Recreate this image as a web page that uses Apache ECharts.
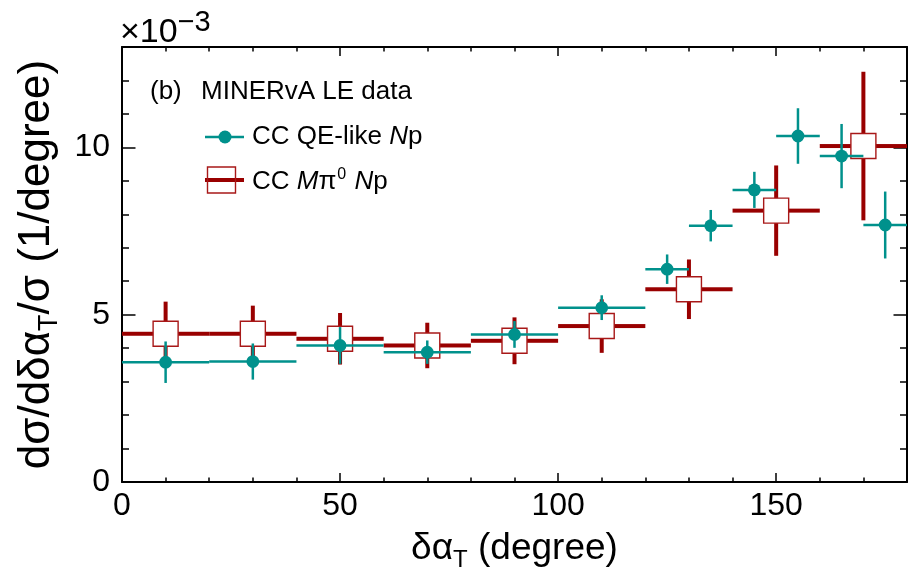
<!DOCTYPE html>
<html><head><meta charset="utf-8">
<script src="https://cdn.jsdelivr.net/npm/echarts@6/dist/echarts.min.js"></script>
<style>html,body{margin:0;padding:0;background:#fff}#c{width:913px;height:576px}</style>
</head><body><div id="c"></div>
<script>
// ---- data (values in units of 1e-3 / degree) ----
const cyanX   = [10, 30, 50, 70, 90, 110, 125, 135, 145, 155, 165, 175];
const cyanLo  = [0, 20, 40, 60, 80, 100, 120, 130, 140, 150, 160, 170];
const cyanHi  = [20, 40, 60, 80, 100, 120, 130, 140, 150, 160, 170, 180];
const cyanY   = [3.58, 3.60, 4.08, 3.88, 4.41, 5.21, 6.36, 7.66, 8.73, 10.34, 9.74, 7.68];
const cyanErr = [0.62, 0.54, 0.55, 0.35, 0.40, 0.37, 0.44, 0.47, 0.54, 0.83, 0.96, 1.00];

const redX   = [10, 30, 50, 70, 90, 110, 130, 150, 170];
const redLo  = [0, 20, 40, 60, 80, 100, 120, 140, 160];
const redHi  = [20, 40, 60, 80, 100, 120, 140, 160, 180];
const redY   = [4.43, 4.43, 4.28, 4.08, 4.22, 4.66, 5.76, 8.11, 10.04];
const redErr = [0.96, 0.84, 0.77, 0.68, 0.70, 0.80, 0.89, 1.35, 2.22];

const xTicks = [0, 50, 100, 150];
const yTicks = [0, 5, 10];

const CYAN = '#00918c';
const RED = '#990000';
const RED2 = '#a81818';
const FONT = 'Liberation Sans, Arial, Helvetica, sans-serif';

const cyanData = cyanX.map((x, i) => [x, cyanY[i], cyanErr[i], cyanLo[i], cyanHi[i]]);
const redData = redX.map((x, i) => [x, redY[i], redErr[i], redLo[i], redHi[i]]);

function pts(api) {
  const x = api.value(0), y = api.value(1), e = api.value(2), lo = api.value(3), hi = api.value(4);
  return {
    c: api.coord([x, y]), l: api.coord([lo, y]), r: api.coord([hi, y]),
    t: api.coord([x, y + e]), b: api.coord([x, y - e])
  };
}
function renderRed(params, api) {
  const p = pts(api), h = 12.5, ch = [];
  const st = { stroke: RED, lineWidth: 4, lineCap: 'butt' };
  if (p.c[0] - h > p.l[0]) ch.push({ type: 'line', shape: { x1: p.l[0], y1: p.c[1], x2: p.c[0] - h, y2: p.c[1] }, style: st });
  if (p.r[0] > p.c[0] + h) ch.push({ type: 'line', shape: { x1: p.c[0] + h, y1: p.c[1], x2: p.r[0], y2: p.c[1] }, style: st });
  if (p.t[1] < p.c[1] - h) ch.push({ type: 'line', shape: { x1: p.c[0], y1: p.t[1], x2: p.c[0], y2: p.c[1] - h }, style: st });
  if (p.b[1] > p.c[1] + h) ch.push({ type: 'line', shape: { x1: p.c[0], y1: p.c[1] + h, x2: p.c[0], y2: p.b[1] }, style: st });
  ch.push({ type: 'rect', shape: { x: p.c[0] - h, y: p.c[1] - h, width: 2 * h, height: 2 * h }, style: { fill: 'none', stroke: RED2, lineWidth: 1.4 } });
  return { type: 'group', children: ch };
}
function renderCyan(params, api) {
  const p = pts(api), ch = [];
  const st = { stroke: CYAN, lineWidth: 2.5, lineCap: 'butt' };
  ch.push({ type: 'line', shape: { x1: p.l[0], y1: p.c[1], x2: p.r[0], y2: p.c[1] }, style: st });
  ch.push({ type: 'line', shape: { x1: p.c[0], y1: p.t[1], x2: p.c[0], y2: p.b[1] }, style: st });
  ch.push({ type: 'circle', shape: { cx: p.c[0], cy: p.c[1], r: 6.4 }, style: { fill: CYAN } });
  return { type: 'group', children: ch };
}

function baseX(pos, interval, len, major) {
  return {
    type: 'value', position: pos, min: 0, max: 180, interval: interval,
    axisLine: { show: major, onZero: false, lineStyle: { color: '#000', width: 2 } },
    axisTick: { show: true, inside: true, length: len, lineStyle: { color: '#000', width: 1.5 } },
    axisLabel: { show: false }, splitLine: { show: false }
  };
}
function baseY(pos, interval, len, major) {
  return {
    type: 'value', position: pos, min: 0, max: 13, interval: interval,
    axisLine: { show: major, onZero: false, lineStyle: { color: '#000', width: 2 } },
    axisTick: { show: true, inside: true, length: len, lineStyle: { color: '#000', width: 1.5 } },
    axisLabel: { show: false }, splitLine: { show: false }
  };
}

const xMain = baseX('bottom', 50, 9, true);
xMain.axisLabel = {
  show: true, fontSize: 32, color: '#000', fontFamily: FONT, margin: 8,
  formatter: v => (xTicks.indexOf(v) >= 0 ? String(v) : '')
};
xMain.name = '{a|δα}{s|T}{a| (degree)}';
xMain.nameLocation = 'middle';
xMain.nameGap = 44;
xMain.nameTextStyle = {
  color: '#000', fontFamily: FONT, fontSize: 37,
  rich: { a: { fontSize: 37, fontFamily: FONT, color: '#000' },
          s: { fontSize: 24, fontFamily: FONT, color: '#000', padding: [22, 0, 0, 0] } }
};

const yMain = baseY('left', 5, 13.5, true);
yMain.axisLabel = {
  show: true, fontSize: 32, color: '#000', fontFamily: FONT, margin: 12,
  formatter: v => (yTicks.indexOf(v) >= 0 ? String(v) : '')
};
yMain.name = '{a|dσ/dδα}{s|T}{a|/σ (1/degree)}';
yMain.nameLocation = 'middle';
yMain.nameRotate = 90;
yMain.nameGap = 57;
yMain.nameTextStyle = {
  color: '#000', fontFamily: FONT, fontSize: 44,
  rich: { a: { fontSize: 44, fontFamily: FONT, color: '#000' },
          s: { fontSize: 27, fontFamily: FONT, color: '#000', padding: [26, 0, 0, 0] } }
};

const option = {
  animation: false,
  backgroundColor: '#fff',
  grid: { left: 122, right: 6, top: 47, bottom: 94, containLabel: false, outerBoundsMode: 'none' },
  xAxis: [xMain, baseX('bottom', 10, 4.5, false), baseX('top', 50, 9, true), baseX('top', 10, 4.5, false)],
  yAxis: [yMain, baseY('left', 1, 7, false), baseY('right', 5, 13.5, true), baseY('right', 1, 7, false)],
  series: [
    { type: 'custom', name: 'CC Mπ0 Np', xAxisIndex: 0, yAxisIndex: 0, renderItem: renderRed, data: redData, encode: { x: 0, y: 1 }, clip: true, z: 2 },
    { type: 'custom', name: 'CC QE-like Np', xAxisIndex: 0, yAxisIndex: 0, renderItem: renderCyan, data: cyanData, encode: { x: 0, y: 1 }, clip: true, z: 3 }
  ],
  graphic: [
    { type: 'text', x: 120, y: 6, z: 10, style: { text: '{a|×10}{b|−3}', fill: '#000',
      rich: { a: { fontSize: 34, fontFamily: FONT, fill: '#000', padding: [10, 0, 0, 0] },
              b: { fontSize: 29, fontFamily: FONT, fill: '#000', padding: [0, 0, 10, 0] } } } },
    { type: 'text', x: 150, y: 92, z: 10, style: { text: '(b)', fontSize: 26, fontFamily: FONT, fill: '#000', verticalAlign: 'middle' } },
    { type: 'text', x: 201, y: 92, z: 10, style: { text: 'MINERvA LE data', fontSize: 26, fontFamily: FONT, fill: '#000', verticalAlign: 'middle' } },
    { type: 'line', z: 10, shape: { x1: 205, y1: 137, x2: 244, y2: 137 }, style: { stroke: CYAN, lineWidth: 2.5 } },
    { type: 'circle', z: 10, shape: { cx: 225, cy: 137, r: 6.5 }, style: { fill: CYAN } },
    { type: 'text', x: 252, y: 136.5, z: 10, style: { text: 'CC QE-like {i|N}p', fontSize: 26, fontFamily: FONT, fill: '#000', verticalAlign: 'middle',
      rich: { i: { fontSize: 26, fontFamily: FONT, fontStyle: 'italic', fill: '#000' } } } },
    { type: 'line', z: 10, shape: { x1: 205, y1: 180, x2: 244, y2: 180 }, style: { stroke: RED, lineWidth: 4 } },
    { type: 'rect', z: 10, shape: { x: 207.5, y: 167, width: 28, height: 26 }, style: { fill: 'none', stroke: RED2, lineWidth: 1.4 } },
    { type: 'text', x: 252, y: 182, z: 10, style: { text: 'CC {i|M}π{p|0} {i|N}p', fontSize: 26, fontFamily: FONT, fill: '#000', verticalAlign: 'middle',
      rich: { i: { fontSize: 26, fontFamily: FONT, fontStyle: 'italic', fill: '#000' },
              p: { fontSize: 16, fontFamily: FONT, fill: '#000', padding: [0, 1, 14, 1] } } } }
  ]
};
const chart = echarts.init(document.getElementById('c'), null, { renderer: 'canvas' });
chart.setOption(option);
</script></body></html>
